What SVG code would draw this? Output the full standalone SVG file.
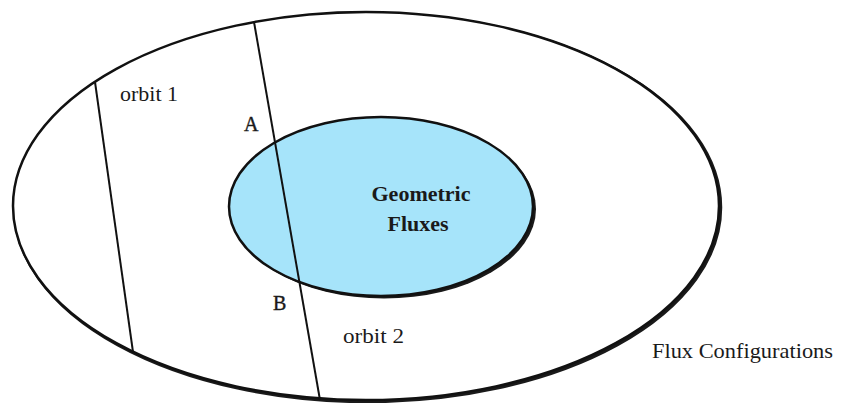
<svg xmlns="http://www.w3.org/2000/svg" width="843" height="403" viewBox="0 0 843 403">
  <style>
    .edge { stroke: #111; stroke-width: 2; fill: none; }
    .lbl { font-family: "Liberation Serif", "Times New Roman", "DejaVu Serif", serif; fill: #1a1a1a; }
    .bold { font-weight: bold; }
  </style>
  <rect x="0" y="0" width="843" height="403" fill="#ffffff"/>
  <g id="flux-configurations">
    <ellipse cx="367.5" cy="207.5" rx="353" ry="194" fill="none" stroke="#1a1a1a" stroke-width="3.5"/>
    <ellipse cx="366" cy="206" rx="353" ry="194" fill="#ffffff" stroke="#111" stroke-width="2.5"/>
    <text class="lbl" x="652" y="358" font-size="22" textLength="181" lengthAdjust="spacingAndGlyphs">Flux Configurations</text>
  </g>
  <g id="geometric-fluxes">
    <ellipse cx="384" cy="209" rx="152" ry="89.5" fill="#1a1a1a"/>
    <ellipse cx="381" cy="206.5" rx="152" ry="89.5" fill="#A6E4FA" stroke="#111" stroke-width="2.5"/>
    <text class="lbl bold" x="421" y="201" font-size="22" text-anchor="middle" textLength="99" lengthAdjust="spacingAndGlyphs">Geometric</text>
    <text class="lbl bold" x="418" y="231" font-size="22" text-anchor="middle" textLength="61" lengthAdjust="spacingAndGlyphs">Fluxes</text>
  </g>
  <g id="connectors">
    <line id="orbit1-line" class="edge" x1="95" y1="82" x2="133" y2="352"/>
    <line id="orbit2-line" class="edge" x1="254" y1="22" x2="320" y2="400"/>
  </g>
  <g id="orbit-1">
    <text class="lbl" x="120" y="101" font-size="20" textLength="58" lengthAdjust="spacingAndGlyphs">orbit 1</text>
  </g>
  <g id="orbit-2">
    <text class="lbl" x="343" y="343" font-size="20" textLength="61" lengthAdjust="spacingAndGlyphs">orbit 2</text>
  </g>
  <g id="point-A">
    <text class="lbl" x="244" y="131" font-size="20" stroke="#1a1a1a" stroke-width="0.4">A</text>
  </g>
  <g id="point-B">
    <text class="lbl" x="273" y="310" font-size="20" stroke="#1a1a1a" stroke-width="0.4">B</text>
  </g>
</svg>
